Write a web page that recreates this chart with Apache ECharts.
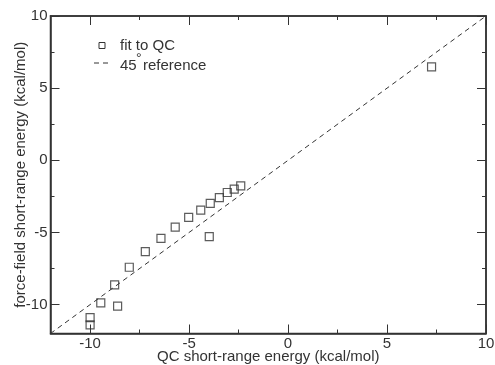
<!DOCTYPE html>
<html><head><meta charset="utf-8">
<script src="https://cdn.jsdelivr.net/npm/echarts@6/dist/echarts.min.js"></script>
<style>html,body{margin:0;padding:0;background:#fff}#c{width:495px;height:365px}</style>
</head><body><div id="c"></div>
<script>
const qcEnergy = [-10.0, -10.0, -9.46, -8.61, -8.76, -8.02, -7.21, -6.42, -5.70, -5.02, -4.41, -3.93, -3.98, -3.47, -3.07, -2.72, -2.39, 7.25];
const ffEnergy = [-10.9, -11.4, -9.88, -10.11, -8.63, -7.41, -6.33, -5.41, -4.63, -3.96, -3.45, -2.99, -5.29, -2.58, -2.23, -2.0, -1.77, 6.48];
const refEnds = [-12, 10];
const majorTicks = [-10, -5, 0, 5, 10];
const minorTicks = [-7.5, -2.5, 2.5, 7.5];
const xTitle = 'QC short-range energy (kcal/mol)';
const yTitle = 'force-field short-range energy (kcal/mol)';
const legendNames = ['fit to QC', '45 ° reference'];

const FONT = 'Liberation Sans, Arial, sans-serif';
const AX = '#333';
const chart = echarts.init(document.getElementById('c'), null, {renderer: 'canvas'});

function mkAxis(pos, isX, major, withLabel, name) {
  const a = {
    type: 'value', min: -12, max: 10, position: pos, offset: 0,
    splitLine: {show: false},
    axisLine: {show: major, onZero: false, lineStyle: {color: AX, width: 1.5}},
    axisTick: {show: true, inside: true, length: major ? 9 : 4,
      customValues: major ? majorTicks : minorTicks, lineStyle: {color: AX, width: 1}},
    axisLabel: {show: withLabel, customValues: majorTicks, color: '#333',
      fontFamily: FONT, fontSize: 15, margin: 3},
    z: 5
  };
  if (name) {
    a.name = name; a.nameLocation = 'middle';
    a.nameGap = isX ? 16 : 22;
    a.nameMoveOverlap = false;
    a.nameTextStyle = {fontFamily: FONT, fontSize: 15, color: '#333'};
  }
  return a;
}

const scatterData = qcEnergy.map((x, i) => [x, ffEnergy[i]]);
const refData = refEnds.map(v => [v, v]);

chart.setOption({
  animation: false,
  backgroundColor: '#fff',
  grid: {left: 50.5, right: 9, top: 16, bottom: 31.5, containLabel: false, outerBoundsMode: 'none',
         show: true, borderColor: AX, borderWidth: 1.5, backgroundColor: 'transparent'},
  xAxis: [
    mkAxis('bottom', true, true, true, xTitle),
    mkAxis('bottom', true, false, false),
    mkAxis('top', true, true, false),
    mkAxis('top', true, false, false)
  ],
  yAxis: [
    mkAxis('left', false, true, true, yTitle),
    mkAxis('left', false, false, false),
    mkAxis('right', false, true, false),
    mkAxis('right', false, false, false)
  ],
  series: [
    {type: 'line', name: legendNames[1], data: refData, showSymbol: false, symbol: 'none',
     lineStyle: {color: '#333', width: 1, type: [5, 4]}, z: 2},
    {type: 'scatter', name: legendNames[0], data: scatterData, symbol: 'rect', symbolSize: 8,
     itemStyle: {color: 'rgba(0,0,0,0)', borderColor: '#333', borderWidth: 1.2}, z: 3}
  ],
  graphic: [
    {type: 'rect', shape: {x: 99, y: 42.5, width: 6, height: 6},
     style: {fill: 'none', stroke: '#333', lineWidth: 1}},
    {type: 'text', x: 120, y: 46, style: {text: legendNames[0], font: '15px ' + FONT, fill: '#333', verticalAlign: 'middle'}},
    {type: 'line', shape: {x1: 94, y1: 63, x2: 109, y2: 63},
     style: {stroke: '#333', lineWidth: 1, lineDash: [5, 4]}},
    {type: 'text', x: 120, y: 66, style: {text: '45', font: '15px ' + FONT, fill: '#333', verticalAlign: 'middle'}},
    {type: 'text', x: 136, y: 59, style: {text: '°', font: '14px ' + FONT, fill: '#333', verticalAlign: 'middle'}},
    {type: 'text', x: 143, y: 66, style: {text: 'reference', font: '15px ' + FONT, fill: '#333', verticalAlign: 'middle'}}
  ]
});
</script></body></html>
